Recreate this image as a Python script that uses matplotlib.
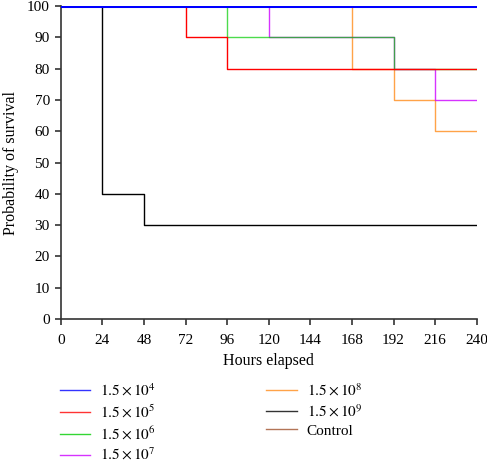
import matplotlib
matplotlib.use("Agg")
import matplotlib.pyplot as plt
from matplotlib.lines import Line2D

plt.rcParams['font.family'] = ['Liberation Serif', 'DejaVu Serif']
plt.rcParams['mathtext.fontset'] = 'stix'

hours = [0, 24, 48, 72, 96, 120, 144, 168, 192, 216, 240]
labels = [r'$1.5 \times 10^4$', r'$1.5 \times 10^5$', r'$1.5 \times 10^6$',
          r'$1.5 \times 10^7$', r'$1.5 \times 10^8$', r'$1.5 \times 10^9$', 'Control']
colors = ['#0000ff', '#ff0000', '#00cc00', '#cc00ff', '#ff8c1a', '#000000', '#a0522d']

s_1e4 = [100, 100, 100, 100, 100, 100, 100, 100, 100, 100, 100]
s_1e5 = [100, 100, 100, 90, 80, 80, 80, 80, 80, 80, 80]
s_1e6 = [100, 100, 100, 100, 90, 90, 90, 90, 80, 80, 80]
s_1e7 = [100, 100, 100, 100, 100, 90, 90, 90, 80, 70, 70]
s_1e8 = [100, 100, 100, 100, 100, 100, 100, 80, 70, 60, 60]
s_1e9 = [100, 40, 30, 30, 30, 30, 30, 30, 30, 30, 30]
s_ctrl = [100, 100, 100, 100, 100, 100, 100, 100, 100, 100, 100]

series = [s_1e4, s_1e5, s_1e6, s_1e7, s_1e8, s_1e9, s_ctrl]
alphas = [1.0, 1.0, 0.7, 0.8, 0.8, 1.0, 0.8]
draw_order = [6, 5, 4, 3, 2, 1, 0]

fig = plt.figure(figsize=(4.87, 4.65), dpi=100)
ax = fig.add_axes([0.125, 0.314, 0.854, 0.673])

for i in draw_order:
    lw = 2.2 if i == 0 else 1.0
    ax.plot(hours, series[i], drawstyle='steps-post', color=colors[i],
            lw=lw, alpha=alphas[i], label=labels[i], zorder=3 + (7 - i))

ax.set_xlim(0, 240)
ax.set_ylim(0, 100)
ax.set_xticks(range(0, 241, 24))
ax.set_yticks(range(0, 101, 10))
ax.spines['top'].set_visible(False)
ax.spines['right'].set_visible(False)
for side in ('left', 'bottom'):
    ax.spines[side].set_linewidth(1.2)
    ax.spines[side].set_color('#333333')
ax.tick_params(direction='out', length=4, width=1.2, labelsize=11, color='#333333')
ax.tick_params(axis='x', pad=7)
ax.tick_params(axis='y', pad=4)
ax.set_xlabel('Hours elapsed', fontsize=11.5, labelpad=4)
ax.set_ylabel('Probability of survival', fontsize=11.5, labelpad=6)

leg_handles = [Line2D([0], [0], color=colors[i], lw=1.0, alpha=0.8) for i in range(7)]
fig.legend(leg_handles, labels, loc='upper left', bbox_to_anchor=(0.123, 0.178),
           ncol=2, frameon=False, fontsize=11, handlelength=2.0, handletextpad=0.65,
           columnspacing=7.2, labelspacing=0.3, borderpad=0, borderaxespad=0)

fig.savefig('out.png', dpi=100)
